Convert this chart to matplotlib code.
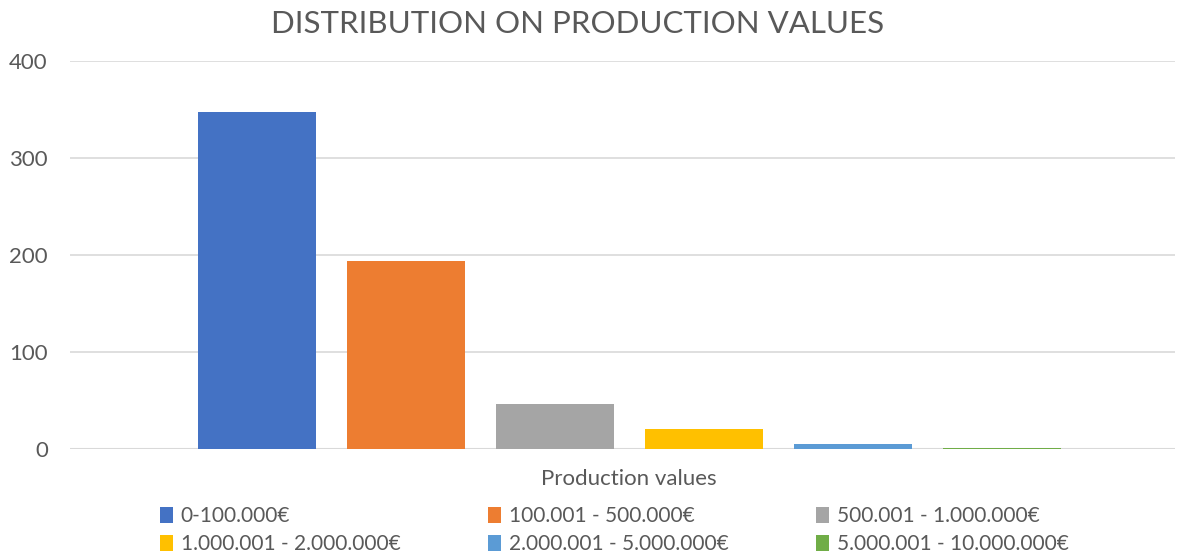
import matplotlib.pyplot as plt
from matplotlib.patches import Patch

plt.rcParams['font.family'] = ['Lato', 'DejaVu Sans']

ranges = ['0-100.000€', '100.001 - 500.000€', '500.001 - 1.000.000€',
          '1.000.001 - 2.000.000€', '2.000.001 - 5.000.000€', '5.000.001 - 10.000.000€']
counts = [347, 194, 46, 21, 5, 1]
colors = ['#4472C4', '#ED7D31', '#A5A5A5', '#FFC000', '#5B9BD5', '#70AD47']
yticks = [0, 100, 200, 300, 400]

text_col = '#595959'

fig = plt.figure(figsize=(11.86, 5.55), dpi=100)
ax = fig.add_axes([70 / 1186, 1 - 449 / 555, 1105 / 1186, 388 / 555])

pos = list(range(len(counts)))
ax.bar(pos, counts, width=118 / 149, color=colors, zorder=3)

ax.set_xlim(-1.255, 6.16)
ax.set_ylim(0, 400)
ax.set_yticks(yticks)
ax.set_xticks([])
ax.grid(axis='y', color='#D9D9D9', linewidth=1.2, zorder=0)
ax.axhline(0, color='#D9D9D9', linewidth=1.5, zorder=2)
for s in ax.spines.values():
    s.set_visible(False)
ax.tick_params(axis='y', length=0, pad=16, labelsize=16, labelcolor=text_col)

fig.text(578 / 1186, 1 - 24 / 555, 'DISTRIBUTION ON PRODUCTION VALUES',
         ha='center', va='center', fontsize=22.5, color=text_col)
fig.text(629 / 1186, 1 - 479 / 555, 'Production values',
         ha='center', va='center', fontsize=16, color=text_col)

# legend rows read left to right, so reorder for column-major filling
handles = [Patch(facecolor=c, label=r) for c, r in zip(colors, ranges)]
order = [0, 3, 1, 4, 2, 5]
leg = fig.legend([handles[i] for i in order], [ranges[i] for i in order],
                 ncol=3, loc='center left', bbox_to_anchor=(160 / 1186, 1 - 530 / 555),
                 frameon=False, fontsize=15, handlelength=0.6, handleheight=0.8,
                 handletextpad=0.4, columnspacing=4.2, labelspacing=0.4,
                 borderpad=0, borderaxespad=0)
for t in leg.get_texts():
    t.set_color(text_col)

fig.savefig('out.png', dpi=100)
